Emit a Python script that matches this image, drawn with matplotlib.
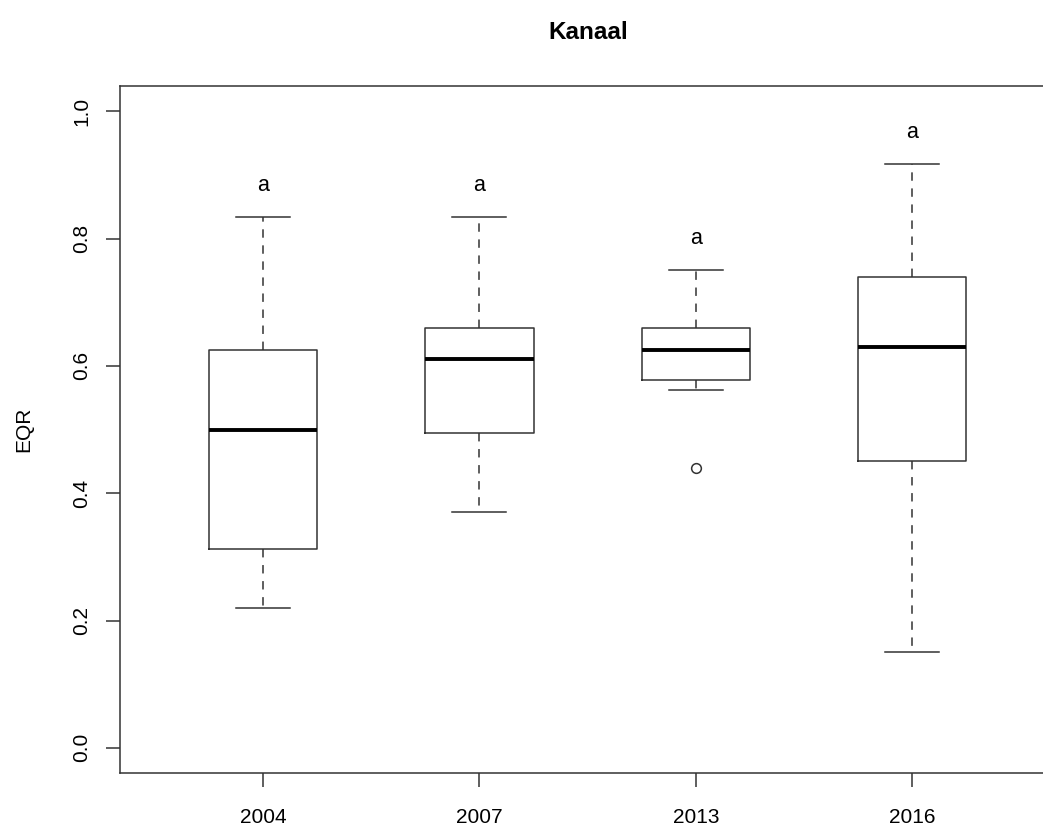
import matplotlib
matplotlib.use("Agg")
import matplotlib.pyplot as plt

plt.rcParams['font.family'] = ['Liberation Sans', 'DejaVu Sans']

# EQR summary per year (whisker low, Q1, median, Q3, whisker high)
years = ["2004", "2007", "2013", "2016"]
whisker_low = [0.22, 0.37, 0.5625, 0.15]
q1 = [0.3125, 0.495, 0.5775, 0.45]
medians = [0.50, 0.61, 0.625, 0.63]
q3 = [0.625, 0.66, 0.66, 0.74]
whisker_high = [0.8333, 0.8333, 0.75, 0.9167]
outliers = [[], [], [0.44], []]
group_letters = ["a", "a", "a", "a"]

fig = plt.figure(figsize=(10.43, 8.26), dpi=100)
ax = fig.add_axes([0.1153, 0.0638, 0.8962, 0.8324])

stats = []
for i, yr in enumerate(years):
    stats.append(dict(label=yr, whislo=whisker_low[i], q1=q1[i], med=medians[i],
                      q3=q3[i], whishi=whisker_high[i], fliers=outliers[i]))

positions = list(range(1, len(years) + 1))
line_col = "#333333"
ax.bxp(stats, positions=positions, widths=0.5, showfliers=True,
       boxprops=dict(color=line_col, linewidth=1.1),
       medianprops=dict(color="black", linewidth=2.8, solid_capstyle="butt"),
       whiskerprops=dict(color=line_col, linewidth=1.1, linestyle=(0, (5.5, 5))),
       capprops=dict(color=line_col, linewidth=1.1),
       capwidths=0.25,
       flierprops=dict(marker="o", markersize=7, markerfacecolor="none",
                       markeredgecolor=line_col, markeredgewidth=1.1))

# Group letters above each upper whisker
for p, hi, letter in zip(positions, whisker_high, group_letters):
    ax.text(p, hi + 0.05, letter, ha="center", va="center", fontsize=15.5,
            color="black")

ax.set_xlim(0.34, 4.66)
ax.set_ylim(-0.04, 1.04)
ax.set_yticks([0.0, 0.2, 0.4, 0.6, 0.8, 1.0])
ax.set_yticklabels(["0.0", "0.2", "0.4", "0.6", "0.8", "1.0"], rotation=90,
                   va="center")
ax.set_xticks(positions)
ax.set_xticklabels(years)
ax.tick_params(axis="both", length=10, width=1.1, color=line_col,
               labelsize=15, direction="out")
ax.tick_params(axis="x", pad=15)
ax.tick_params(axis="y", pad=11)
for s in ax.spines.values():
    s.set_color(line_col)
    s.set_linewidth(1.1)

ax.set_ylabel("EQR", fontsize=15)
ax.yaxis.set_label_coords(-0.0935, 0.5)
fig.text(0.5637, 0.961, "Kanaal", ha="center", va="center", fontsize=17.5,
         fontweight="bold")

fig.savefig("out.png", dpi=100, facecolor="white")
